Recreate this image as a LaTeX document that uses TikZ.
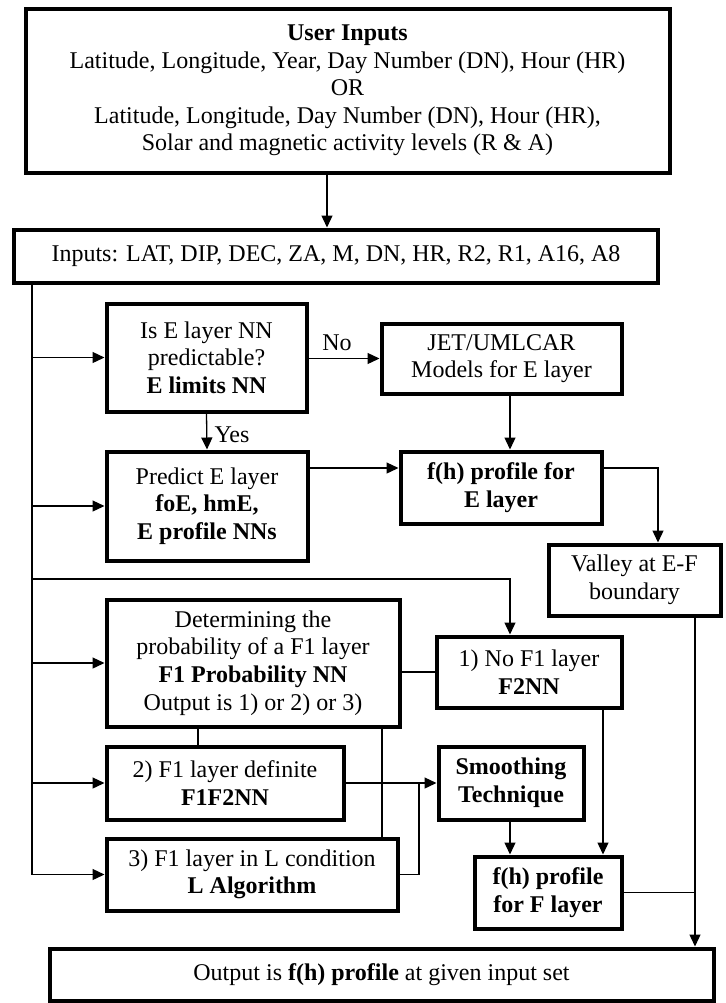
\documentclass[tikz,border=0pt]{standalone}
\usepackage{fontspec}
\setmainfont{Liberation Serif}
\usetikzlibrary{arrows.meta}

\begin{document}
\begin{tikzpicture}[x=0.5pt,y=-0.5pt,font=\fontsize{12}{13.8}\selectfont,
    box/.style={draw,line width=2pt,align=center,inner sep=1pt},
    line/.style={line width=0.65pt},
    arr/.style={line width=0.65pt,-{Triangle[length=6pt,width=5.5pt]}}]
    \useasboundingbox (0,0) rectangle (725,1003);
    \node[box,minimum width=322pt,minimum height=82pt] (user) at (347.5,90.5)
        {\textbf{User Inputs}\\Latitude, Longitude, Year, Day Number (DN), Hour (HR)\\OR\\Latitude, Longitude, Day Number (DN), Hour (HR),\\Solar and magnetic activity levels (R \& A)};
    \node[box,minimum width=322pt,minimum height=26.5pt] (inp) at (336,256)
        {Inputs: LAT, DIP, DEC, ZA, M, DN, HR, R2, R1, A16, A8};
    \node[box,minimum width=100pt,minimum height=54pt] (isE) at (206.5,357.5)
        {Is E layer NN\\predictable?\\\textbf{E limits NN}};
    \node[box,minimum width=120pt,minimum height=35pt] (jet) at (501.5,358.5)
        {JET/UMLCAR\\Models for E layer};
    \node[box,minimum width=100.5pt,minimum height=54.5pt] (pred) at (207,506)
        {Predict E layer\\\textbf{foE, hmE,}\\\textbf{E profile NNs}};
    \node[box,minimum width=100.5pt,minimum height=36pt] (fhE) at (501,487.5)
        {\textbf{f(h) profile for}\\\textbf{E layer}};
    \node[box,minimum width=86pt,minimum height=35.5pt] (valley) at (634.5,580)
        {Valley at E-F\\boundary};
    \node[box,minimum width=146.5pt,minimum height=63.5pt] (prob) at (253,663)
        {Determining the\\probability of a F1 layer\\\textbf{F1 Probability NN}\\Output is 1) or 2) or 3)};
    \node[box,minimum width=92.5pt,minimum height=35.5pt] (nof1) at (529,672)
        {1) No F1 layer\\\textbf{F2NN}};
    \node[box,minimum width=118.5pt,minimum height=36.5pt] (def) at (225,783)
        {2) F1 layer definite\\\textbf{F1F2NN}};
    \node[box,minimum width=145.5pt,minimum height=36pt] (lcond) at (252,874.5)
        {3) F1 layer in L condition\\\textbf{L Algorithm}};
    \node[box,minimum width=72.5pt,minimum height=36.5pt] (smooth) at (511,783)
        {\textbf{Smoothing}\\\textbf{Technique}};
    \node[box,minimum width=73.5pt,minimum height=36pt] (fhF) at (548,892.5)
        {\textbf{f(h) profile}\\\textbf{for F layer}};
    \node[box,minimum width=332pt,minimum height=26pt] (out) at (381.5,974.5)
        {Output is \textbf{f(h) profile} at given input set};
    \node (no) at (337,343) {No};
    \node (yes) at (232,435) {Yes};
    \coordinate (spine) at (32,0);
    \coordinate (down) at (327,0);
    \coordinate (colE) at (510,579);
    \coordinate (colV) at (658,468);
    \coordinate (colO) at (695,0);
    \coordinate (colP) at (198,0);
    \coordinate (colQ) at (382,0);
    \coordinate (colN) at (603,0);
    \coordinate (colL) at (419,0);
    \draw[arr] (user.south -| down) -- (inp.north -| down);
    \draw[line] (inp.south -| spine) -- (spine |- lcond.west);
    \draw[arr] (spine |- lcond.west) -- (lcond.west);
    \draw[arr] (spine |- isE.west) -- (isE.west);
    \draw[arr] (spine |- pred.west) -- (pred.west);
    \draw[arr] (spine |- prob.west) -- (prob.west);
    \draw[arr] (spine |- def.west) -- (def.west);
    \draw[arr] (isE.east |- jet.west) -- (jet.west);
    \draw[arr] (isE.south) -- (pred.north);
    \draw[arr] (jet.south -| colE) -- (fhE.north -| colE);
    \draw[arr] (pred.east |- colV) -- (fhE.west |- colV);
    \draw[arr] (fhE.east |- colV) -| (valley.north -| colV);
    \draw[arr] (spine |- colE) -| (nof1.north -| colE);
    \draw[line] (nof1.west -| prob.east) -- (nof1.west);
    \draw[line] (prob.south -| colP) -- (def.north -| colP);
    \draw[line] (prob.south -| colQ) -- (lcond.north -| colQ);
    \draw[arr] (def.east) -- (smooth.west);
    \draw[line] (lcond.east) -| (colL |- smooth.west);
    \draw[arr] (smooth.south -| colE) -- (fhF.north -| colE);
    \draw[arr] (nof1.south -| colN) -- (fhF.north -| colN);
    \draw[arr] (valley.south -| colO) -- (out.north -| colO);
    \draw[line] (fhF.east) -- (fhF.east -| colO);
\end{tikzpicture}
\end{document}
